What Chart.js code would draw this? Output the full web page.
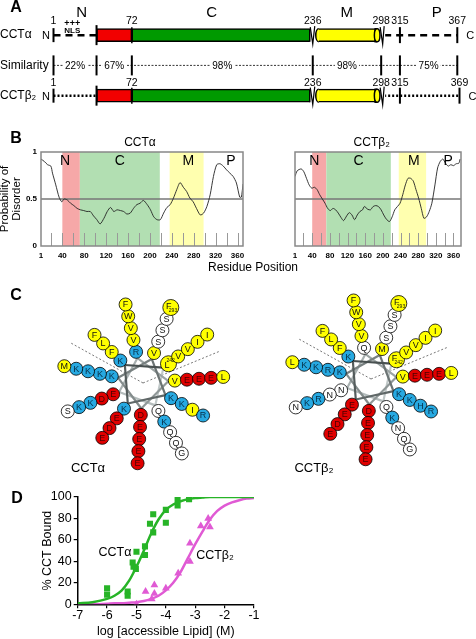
<!DOCTYPE html>
<html><head><meta charset="utf-8">
<script src="https://cdn.jsdelivr.net/npm/chart.js@4.4.0/dist/chart.umd.min.js"></script>
<style>
html,body{margin:0;padding:0;background:#fff;}
body{width:476px;height:639px;position:relative;overflow:hidden;font-family:"Liberation Sans",Arial,sans-serif;}
canvas{position:absolute;}
.t{position:absolute;white-space:nowrap;line-height:1;transform:translate(-50%,-50%);color:#000;}
</style></head><body>
<canvas id="cA" width="476" height="118" style="left:0;top:0"></canvas>
<canvas id="cB1" width="250" height="140" style="left:0;top:130px"></canvas>
<canvas id="cB2" width="226" height="140" style="left:250px;top:130px"></canvas>
<canvas id="cC1" width="200" height="200" style="left:43px;top:283px"></canvas>
<canvas id="cC2" width="200" height="200" style="left:271px;top:279px"></canvas>
<canvas id="cD" width="262" height="159" style="left:0;top:480px"></canvas>
<script>
// ---------------- DATA ----------------
// Panel A: domain map
const rowLabels = ['CCTα', 'Similarity', 'CCTβ₂'];
const boundsAlpha = [1, 40, 72, 236, 298, 315, 367];
const boundsBeta2 = [1, 40, 72, 236, 298, 315, 369];
const domainRed = [40, 72];
const domainGreen = [72, 236];
const domainYellow = [236, 298];
const similarityPct = ['22%', '67%', '98%', '98%', '', '75%'];
const nlsResidue = 18;

// Panel B: disorder probability
const residuesAlpha = [1,7,13,19,22,28,34,39,43,49,55,61,67,73,79,85,91,97,103,109,116,122,128,134,140,146,152,158,164,170,176,182,188,195,201,207,213,219,225,231,237,243,249,255,261,267,273,279,285,292,298,304,310,316,322,328,334,340,346,352,358,364,367,370];
const disorderAlpha = [0.925,0.90,0.865,0.85,0.775,0.65,0.52,0.47,0.50,0.49,0.455,0.43,0.40,0.385,0.377,0.367,0.367,0.32,0.28,0.235,0.295,0.367,0.41,0.367,0.385,0.377,0.367,0.34,0.35,0.40,0.44,0.455,0.485,0.44,0.385,0.31,0.28,0.28,0.35,0.41,0.44,0.51,0.60,0.675,0.625,0.58,0.51,0.47,0.40,0.33,0.35,0.42,0.545,0.74,0.865,0.875,0.85,0.81,0.775,0.74,0.67,0.52,0.52,0.66];
const residuesBeta2 = [1,6,15,21,27,33,39,45,51,57,63,69,75,81,87,93,99,105,111,118,124,130,136,142,148,154,158,166,172,178,184,190,196,202,208,215,221,227,233,239,245,251,257,263,269,275,281,287,293,299,305,311,318,324,330,336,342,348,354,360,366,372,375];
const disorderBeta2 = [0.74,0.80,0.82,0.79,0.72,0.65,0.615,0.625,0.60,0.545,0.50,0.455,0.40,0.377,0.40,0.385,0.35,0.305,0.27,0.32,0.355,0.33,0.28,0.33,0.367,0.385,0.42,0.39,0.385,0.42,0.43,0.42,0.385,0.33,0.285,0.26,0.31,0.385,0.42,0.455,0.545,0.65,0.72,0.72,0.69,0.60,0.51,0.40,0.295,0.31,0.367,0.455,0.65,0.83,0.90,0.925,0.88,0.85,0.865,0.855,0.875,0.88,0.925];
const disorderXTicks = [1,40,80,120,160,200,240,280,320,360];
const disorderYTicks = [0, 0.5, 1];
const disorderMinorTicks = [20,40,60,80,100,120,140,160,180,200,220,240,260,280,300,320,340,360];
const disorderRegions = [[40,72],[72,218],[236,298]];
const regionLetters = ['N','C','M','P'];
const regionLetterAt = [45,145,270,348];

// Panel C: helical wheels (residues 242-293)
const seqAlpha = 'LQERVDKVKKKVKDVEEKSKEFVQKVEEKSIDLIQKWEEKSREFIGSFLEMF';
const seqBeta2 = 'FQNQVDKMKEKVKNVEERSKEFVNRVEEKSHDLIQKWEEKSREFIGNFLELF';
const wheelFirstResidue = 242;

// Panel D: membrane binding
const alphaLogL = [-6.0,-6.0,-5.3,-5.3,-5.13,-5.1,-5.02,-5.0,-4.71,-4.71,-4.54,-4.43,-4.43,-4.0,-4.0,-3.6,-3.6,-3.21];
const alphaBound = [15,9,12,8,39,35,33,49,46,54,75,67,84,76,88,98,92,98];
const beta2LogL = [-5.0,-4.69,-4.48,-4.39,-4.39,-4.0,-3.58,-3.18,-3.18,-2.81,-2.56,-2.5];
const beta2Bound = [0,12,5,18,10,15,29,40,57,73,80,72];
const fitLogL = [-7,-6.5,-6,-5.75,-5.5,-5.25,-5,-4.75,-4.5,-4.25,-4,-3.75,-3.5,-3.25,-3,-2.75,-2.5,-2.25,-2,-1.75,-1.5,-1.25,-1];
const fitAlpha = [1,2,5,8,13,22,35,50,66,79,88,93,96,98,99,99.5,100,100,100,100,100,100,100];
const fitBeta2 = [0,0,0.5,1,1,1.5,2,3,5,8,13,20,30,43,56,68,79,87,92,95,97,98.5,99];

// ---------------- SETUP ----------------
const fam = '"Liberation Sans", Arial, sans-serif';
Chart.defaults.font.family = fam;
Chart.defaults.color = '#000';
Chart.defaults.animation = false;
Chart.defaults.responsive = false;
Chart.defaults.devicePixelRatio = 1;
Chart.defaults.plugins.legend.display = false;
Chart.defaults.plugins.tooltip.enabled = false;

function seg(ctx,x1,y1,x2,y2){ctx.beginPath();ctx.moveTo(x1,y1);ctx.lineTo(x2,y2);ctx.stroke();}

// ---------------- PANEL A ----------------
const aDecor = {
  id:'aDecor',
  afterDatasetsDraw(chart){
    const ctx = chart.ctx, xs = chart.scales.x, ys = chart.scales.y;
    const X = v => xs.getPixelForValue(v), Y = i => ys.getPixelForValue(i);
    const H = 6.5;
    ctx.save();
    ctx.strokeStyle = '#000';
    [[0, boundsAlpha, [7,5], -14], [2, boundsBeta2, [2,2], -13]].forEach(([row, b, dash, numOff]) => {
      const y = Y(row);
      ctx.lineWidth = 2.5; ctx.setLineDash(dash);
      seg(ctx, X(b[0]), y, X(b[1]), y);
      seg(ctx, X(b[4])+3, y, X(b[6]), y);
      ctx.setLineDash([]);
      ctx.lineWidth = 2;
      seg(ctx, X(b[0]), y-7, X(b[0]), y+7);
      seg(ctx, X(b[1]), y-10, X(b[1]), y+10);
      seg(ctx, X(b[5]), y-8, X(b[5]), y+8);
      seg(ctx, X(b[6]), y-8, X(b[6]), y+8);
      ctx.lineWidth = 1.5;
      seg(ctx, X(b[2]), y-8, X(b[2]), y+8);
      // break between C and M
      const xb = X(b[3]);
      ctx.fillStyle = '#fff'; ctx.fillRect(xb-3, y-H-1, 9, 2*H+2);
      ctx.lineWidth = 1.5; seg(ctx, xb-3, y-H, xb-3, y+H);
      ctx.fillStyle = '#ffff00';
      ctx.beginPath(); ctx.ellipse(xb+6, y, 3, H, 0, Math.PI/2, Math.PI*1.5); ctx.fill(); ctx.stroke();
      ctx.lineWidth = 1.2;
      ctx.beginPath(); ctx.moveTo(xb-2.5, y-8); ctx.lineTo(xb, y+9); ctx.lineTo(xb+2, y-9); ctx.stroke();
      // end of M cylinder
      const xe = X(b[4]);
      ctx.fillStyle = '#fff'; ctx.fillRect(xe-3, y-H-1, 7, 2*H+2);
      ctx.fillStyle = '#ffff00'; ctx.lineWidth = 1.5;
      ctx.beginPath(); ctx.moveTo(xe-4, y-H); ctx.lineTo(xe-6, y-H); ctx.lineTo(xe-6, y+H); ctx.lineTo(xe-4, y+H); ctx.stroke();
      ctx.beginPath(); ctx.ellipse(xe-4, y, 2.8, H, 0, 0, Math.PI*2); ctx.fill(); ctx.stroke();
      ctx.lineWidth = 1.2;
      ctx.beginPath(); ctx.moveTo(xe-1, y-8); ctx.lineTo(xe+1.5, y+9); ctx.lineTo(xe+3, y-9); ctx.stroke();
      // numbers
      ctx.fillStyle = '#000'; ctx.font = '10.5px '+fam; ctx.textAlign = 'center'; ctx.textBaseline = 'middle';
      [b[0], b[2], b[3], b[4], b[5], b[6]].forEach(v => ctx.fillText(String(v), X(v), y+numOff));
      ctx.font = '11px '+fam;
      ctx.fillText('N', X(b[0])-7.5, y+1);
      ctx.fillText('C', X(b[6])+13, y+1);
    });
    // NLS marks
    const ya = Y(0);
    ctx.fillStyle = '#000'; ctx.textAlign = 'center'; ctx.textBaseline = 'middle';
    ctx.font = 'bold 9px '+fam; ctx.fillText('+++', X(nlsResidue), ya-11.5);
    ctx.font = 'bold 8px '+fam; ctx.fillText('NLS', X(nlsResidue), ya-4);
    // Similarity row
    const ys1 = Y(1);
    ctx.lineWidth = 0.8; ctx.setLineDash([2,1.5]);
    seg(ctx, X(boundsAlpha[0]), ys1, X(boundsAlpha[6]), ys1);
    ctx.setLineDash([]); ctx.lineWidth = 2;
    boundsAlpha.forEach(v => seg(ctx, X(v), ys1-10, X(v), ys1+10));
    ctx.font = '10px '+fam;
    similarityPct.forEach((t,i) => {
      if (!t) return;
      const cx = (X(boundsAlpha[i]) + X(boundsAlpha[i+1]))/2;
      const w = ctx.measureText(t).width + 4;
      ctx.fillStyle = '#fff'; ctx.fillRect(cx-w/2, ys1-6, w, 12);
      ctx.fillStyle = '#000'; ctx.fillText(t, cx, ys1+0.5);
    });
    ctx.restore();
  }
};
const barStyle = {borderColor:'#000', borderWidth:1.5, borderSkipped:false, barThickness:13, grouped:false};
new Chart(document.getElementById('cA'), {
  type:'bar',
  data:{labels: rowLabels, datasets:[
    Object.assign({data:[domainRed, null, domainRed], backgroundColor:'#f20000'}, barStyle),
    Object.assign({data:[domainGreen, null, domainGreen], backgroundColor:'#009a00'}, barStyle),
    Object.assign({data:[domainYellow, null, domainYellow], backgroundColor:'#ffff00'}, barStyle)
  ]},
  options:{
    indexAxis:'y',
    layout:{padding:{left:0, right:16.5, top:20, bottom:2}},
    scales:{
      x:{type:'linear', min:0, max:369, display:false},
      y:{grid:{display:false}, border:{display:false}, ticks:{font:{size:12}, crossAlign:'far', padding:0}, afterFit(s){ s.width = 52.4; }}
    }
  },
  plugins:[aDecor]
});

// ---------------- PANEL B ----------------
const regionColors = ['#f6a8a8', '#b2dfb2', '#ffffaf'];
const bDecor = {
  id:'bDecor',
  beforeDatasetsDraw(chart){
    const ctx = chart.ctx, a = chart.chartArea, xs = chart.scales.x, ys = chart.scales.y;
    ctx.save();
    disorderRegions.forEach((r,i) => {
      const x1 = xs.getPixelForValue(r[0]), x2 = xs.getPixelForValue(r[1]);
      ctx.fillStyle = regionColors[i]; ctx.fillRect(x1, a.top, x2-x1, a.bottom-a.top);
    });
    ctx.strokeStyle = '#999'; ctx.lineWidth = 1;
    disorderMinorTicks.forEach(v => { const x = Math.round(xs.getPixelForValue(v))+0.5; seg(ctx, x, a.bottom, x, a.bottom-13); });
    ctx.strokeStyle = '#777'; ctx.lineWidth = 1.3;
    const y5 = ys.getPixelForValue(0.5); seg(ctx, a.left, y5, a.right, y5);
    ctx.restore();
  },
  afterDatasetsDraw(chart){
    const ctx = chart.ctx, a = chart.chartArea, xs = chart.scales.x;
    ctx.save();
    ctx.strokeStyle = '#888'; ctx.lineWidth = 1.5;
    ctx.strokeRect(a.left, a.top, a.right-a.left, a.bottom-a.top);
    ctx.fillStyle = '#000'; ctx.font = '14px '+fam; ctx.textAlign = 'center'; ctx.textBaseline = 'middle';
    regionLetters.forEach((t,i) => ctx.fillText(t, xs.getPixelForValue(regionLetterAt[i]), a.top+9));
    ctx.restore();
  }
};
function disorderChart(id, residues, values, xMax, showY, padL, padR){
  return new Chart(document.getElementById(id), {
    type:'line',
    data:{datasets:[{data: residues.map((r,i)=>({x:r, y:values[i]})), borderColor:'#222', borderWidth:0.9, pointRadius:0, tension:0.25, fill:false}]},
    options:{
      layout:{padding:{left:padL, right:padR, top:22, bottom:0}},
      scales:{
        x:{type:'linear', min:1, max:xMax, grid:{display:false, drawTicks:false}, border:{display:false},
           afterBuildTicks(s){ s.ticks = disorderXTicks.map(v=>({value:v})); },
           ticks:{font:{size:8, weight:'bold'}, padding:5, maxRotation:0, autoSkip:false, callback:v=>String(v)},
           afterFit(s){ s.height = 24; }},
        y:{type:'linear', min:0, max:1, display:showY, grid:{display:false, drawTicks:false}, border:{display:false},
           afterBuildTicks(s){ s.ticks = disorderYTicks.map(v=>({value:v})); },
           ticks:{font:{size:8, weight:'bold'}, padding:4, callback:v=>String(v)},
           afterFit(s){ s.width = 41; }}
      }
    },
    plugins:[bDecor]
  });
}
disorderChart('cB1', residuesAlpha, disorderAlpha, 370, true, 0, 7);
disorderChart('cB2', residuesBeta2, disorderBeta2, 377, false, 4, 15);

// ---------------- PANEL C ----------------
const WHEEL_START = 102.5, INNER_R = 35, LAYER = 13.3;
function wheelAngle(k){ return (WHEEL_START - ((2 + 3*k) % 11) * 360/11) * Math.PI/180; }
function aaColor(aa){
  if ('FWVLIMA'.includes(aa)) return '#ffff00';
  if ('KRH'.includes(aa)) return '#27a9e1';
  if ('DE'.includes(aa)) return '#e00000';
  return '#ffffff';
}
const wheelDecor = {
  id:'wheelDecor',
  beforeDatasetsDraw(chart, args, opts){
    const ctx = chart.ctx, xs = chart.scales.x, ys = chart.scales.y;
    const P = (r,ang) => [xs.getPixelForValue(r*Math.cos(ang)), ys.getPixelForValue(r*Math.sin(ang))];
    ctx.save();
    ctx.strokeStyle = '#555'; ctx.lineWidth = 0.8; ctx.setLineDash([2,2]);
    [151, 22.5].forEach(d => { const c = P(0,0), e = P(90, d*Math.PI/180); seg(ctx, c[0], c[1], e[0], e[1]); });
    ctx.setLineDash([]); ctx.lineWidth = 2.2; ctx.lineCap = 'round';
    for (let k = 0; k < 11; k++) {
      const p1 = P(28, wheelAngle(k)), p2 = P(28, wheelAngle(k+1));
      const g = Math.round(200 - k*12);
      ctx.strokeStyle = `rgb(${g-8},${g},${g})`;
      seg(ctx, p1[0], p1[1], p2[0], p2[1]);
    }
    ctx.restore();
  },
  afterDatasetsDraw(chart, args, opts){
    const ctx = chart.ctx, pts = chart.getDatasetMeta(0).data, seq = opts.seq;
    ctx.save();
    ctx.textAlign = 'center'; ctx.textBaseline = 'middle';
    pts.forEach((p,k) => {
      const aa = seq[k], col = aaColor(aa);
      ctx.fillStyle = col === '#e00000' ? '#4a0000' : (col === '#27a9e1' ? '#06304a' : '#111');
      const m = opts.marks[k];
      if (m) {
        ctx.font = '9px '+fam;
        if (m.pos === 'sup') { ctx.fillText(aa, p.x-1.5, p.y+2); ctx.font = '5px '+fam; ctx.fillText(m.text, p.x+2.2, p.y-3.5); }
        else { ctx.fillText(aa, p.x-2, p.y-1.5); ctx.font = '5px '+fam; ctx.fillText(m.text, p.x+2.2, p.y+3); }
      } else {
        ctx.font = '9px '+fam; ctx.fillText(aa, p.x, p.y+0.5);
      }
    });
    ctx.restore();
  }
};
function wheelChart(id, seq, marks){
  const pts = seq.split('').map((aa,k) => {
    const r = INNER_R + Math.floor(k/11)*LAYER, ang = wheelAngle(k);
    return {x: r*Math.cos(ang), y: r*Math.sin(ang)};
  });
  return new Chart(document.getElementById(id), {
    type:'scatter',
    data:{datasets:[{data: pts,
      pointRadius: seq.split('').map((a,k)=> marks[k] ? 8 : 6.5),
      pointBackgroundColor: seq.split('').map(aaColor),
      pointBorderColor:'#000', pointBorderWidth:0.8}]},
    options:{
      layout:{padding:0},
      scales:{x:{min:-100, max:100, display:false}, y:{min:-100, max:100, display:false}},
      plugins:{wheelDecor:{seq, marks}}
    },
    plugins:[wheelDecor]
  });
}
const last = 293 - wheelFirstResidue;
wheelChart('cC1', seqAlpha, {0:{text:'242', pos:'sup'}, [last]:{text:'293', pos:'sub'}});
wheelChart('cC2', seqBeta2, {0:{text:'242', pos:'sub'}, [last]:{text:'293', pos:'sub'}});

// ---------------- PANEL D ----------------
const green = '#27b427', magenta = '#e05ad4';
new Chart(document.getElementById('cD'), {
  type:'scatter',
  data:{datasets:[
    {type:'line', data: fitLogL.map((x,i)=>({x, y:fitAlpha[i]})), borderColor:green, borderWidth:2.5, pointRadius:0, cubicInterpolationMode:'monotone', fill:false},
    {type:'line', data: fitLogL.map((x,i)=>({x, y:fitBeta2[i]})), borderColor:magenta, borderWidth:2.5, pointRadius:0, cubicInterpolationMode:'monotone', fill:false},
    {data: alphaLogL.map((x,i)=>({x, y:alphaBound[i]})), pointStyle:'rect', pointRadius:4.3, backgroundColor:green, borderColor:green, borderWidth:0},
    {data: beta2LogL.map((x,i)=>({x, y:beta2Bound[i]})), pointStyle:'triangle', pointRadius:4.5, backgroundColor:magenta, borderColor:magenta, borderWidth:0}
  ]},
  options:{
    layout:{padding:{left:36, right:8, top:17, bottom:0}},
    scales:{
      x:{type:'linear', min:-7, max:-1,
         ticks:{stepSize:1, font:{size:12.5}, padding:0},
         grid:{drawOnChartArea:false, tickLength:4, color:'#000', lineWidth:1.2},
         border:{color:'#000', width:1.5},
         title:{display:true, text:'log [accessible Lipid] (M)', font:{size:12.5}, padding:{top:0, bottom:0}},
         afterFit(s){ s.height = 34.7; }},
      y:{type:'linear', min:0, max:100,
         ticks:{stepSize:20, font:{size:12.5}, padding:2},
         grid:{drawOnChartArea:false, tickLength:4, color:'#000', lineWidth:1.2},
         border:{color:'#000', width:1.5},
         title:{display:true, text:'% CCT Bound', font:{size:12.5}},
         afterFit(s){ s.width = 41.7; }}
    }
  }
});

// ---------------- TEXT LABELS ----------------
function txt(s, x, y, size, bold, rot){
  const d = document.createElement('div'); d.className = 't'; d.textContent = s;
  d.style.left = x+'px'; d.style.top = y+'px'; d.style.fontSize = size+'px';
  if (bold) d.style.fontWeight = 'bold';
  if (rot) d.style.transform = 'translate(-50%,-50%) rotate(-90deg)';
  document.body.appendChild(d);
}
txt('A', 16, 7, 16, true);
txt('N', 81.7, 10.5, 15); txt('C', 211.7, 10.5, 15); txt('M', 346.7, 10.5, 15); txt('P', 436.7, 10.5, 15);
txt('B', 16, 138, 16, true);
txt('CCTα', 140, 142, 12); txt('CCTβ₂', 371.7, 142, 12);
txt('Probability of', 5, 199, 11.5, false, true);
txt('Disorder', 17, 199, 11.5, false, true);
txt('Residue Position', 253, 267, 12);
txt('C', 16, 295, 16, true);
txt('CCTα', 88, 467, 13); txt('CCTβ₂', 314, 467, 13);
txt('D', 17, 498, 16, true);
txt('CCTα', 115, 552, 12.5); txt('CCTβ₂', 215, 555, 12.5);
</script>
</body></html>
